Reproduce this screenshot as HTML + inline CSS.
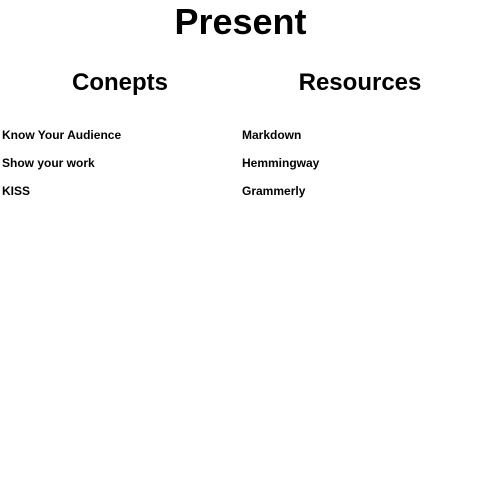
<!DOCTYPE html>
<html><head><style>
body{margin:0;width:481px;height:482px;background:#fff;font-family:"Liberation Sans",sans-serif;font-weight:bold;color:#000;position:relative;overflow:hidden}
div{position:absolute;white-space:nowrap}
.t{left:0;width:481px;text-align:center;font-size:36px;top:0px;line-height:44px}
.h{font-size:24px;width:240px;text-align:center;top:69px;line-height:28px}
.i{font-size:12px;line-height:14px}
</style></head><body>
<div class="t">Present</div>
<div class="h" style="left:0">Conepts</div>
<div class="h" style="left:240px">Resources</div>
<div class="i" style="left:2px;top:128px">Know Your Audience</div>
<div class="i" style="left:2px;top:156px">Show your work</div>
<div class="i" style="left:2px;top:184px">KISS</div>
<div class="i" style="left:242px;top:128px">Markdown</div>
<div class="i" style="left:242px;top:156px">Hemmingway</div>
<div class="i" style="left:242px;top:184px">Grammerly</div>
</body></html>
